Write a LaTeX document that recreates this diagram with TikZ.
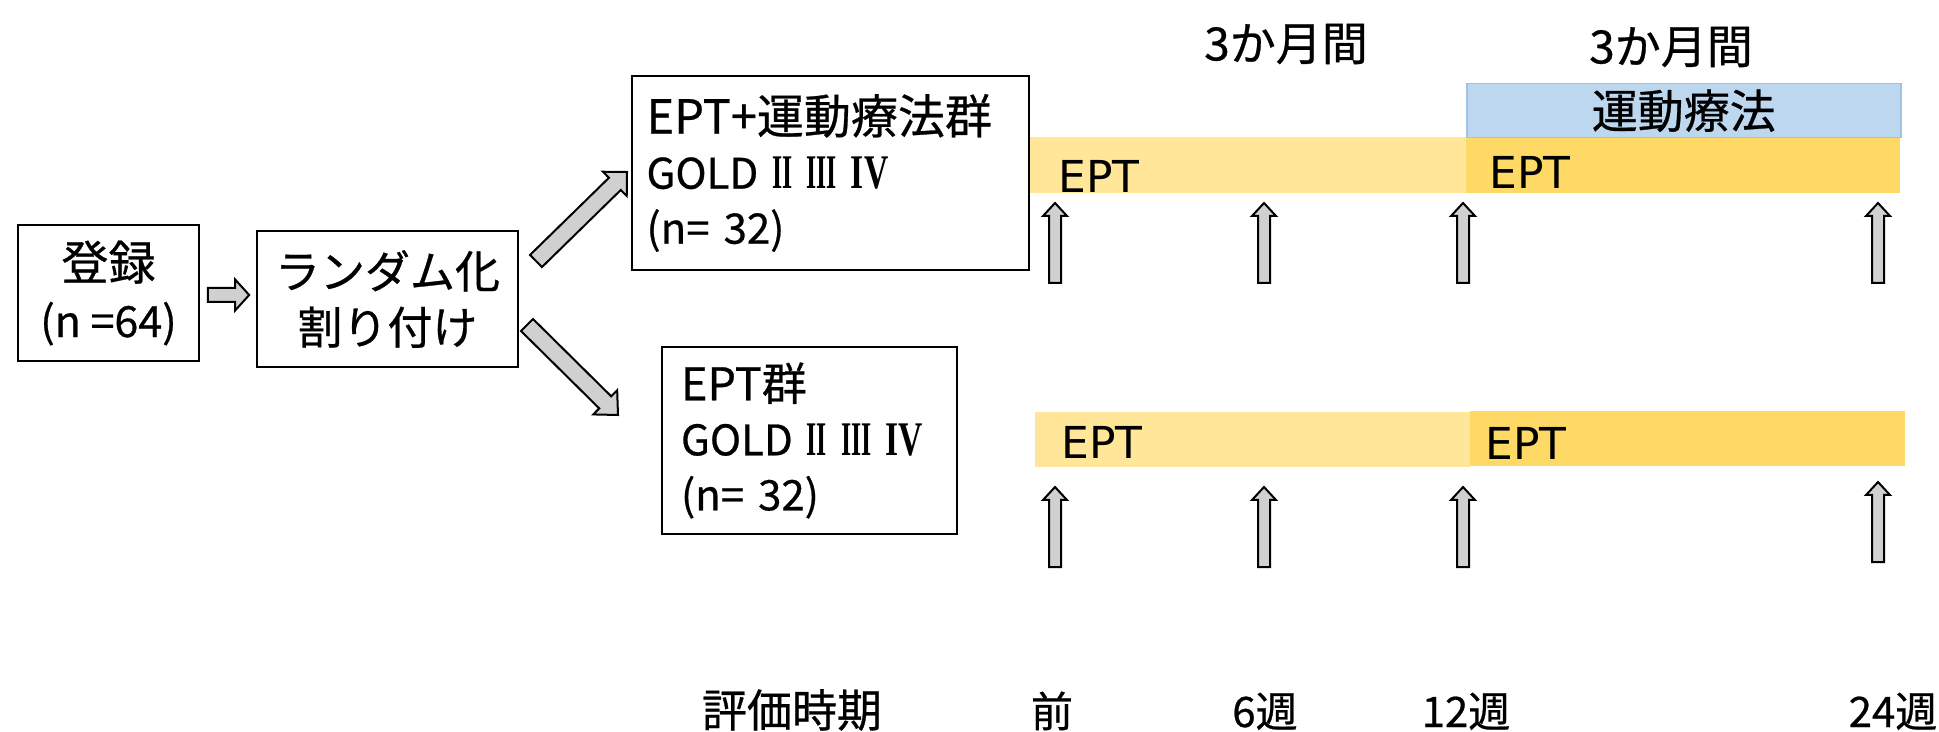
\documentclass[tikz,border=0pt]{standalone}
\usepackage{fontspec}
\usepackage{graphicx}
\setmainfont{Noto Sans CJK JP}[FakeBold=0.6]
\newfontfamily\dvsans{DejaVu Sans}
\newfontfamily\lserif{Liberation Serif}
\usetikzlibrary{calc}
\definecolor{lightbar}{HTML}{FFE699}
\definecolor{darkbar}{HTML}{FFD966}
\definecolor{bluefill}{HTML}{BDD7EE}
\definecolor{blueline}{HTML}{9DC3E6}
\definecolor{arrowgray}{HTML}{D0D0D0}
\newcommand\rnum[2]{\scalebox{#1}[1.15]{\lserif\bfseries #2}}
\newcommand\fs[1]{\fontsize{#1}{27.5}\selectfont}
% block arrow: #1 tail, #2 tip, #3 half shaft, #4 half head, #5 head length
\newcommand\blockarrow[5]{%
  \coordinate (bah) at ($(#2)!#5!(#1)$);
  \draw[blockarr] ($(#1)!#3!90:(#2)$) -- ($(bah)!#3!90:(#2)$) -- ($(bah)!#4!90:(#2)$) -- (#2)
    -- ($(bah)!#4!-90:(#2)$) -- ($(bah)!#3!-90:(#2)$) -- ($(#1)!#3!-90:(#2)$) -- cycle;
}
\begin{document}
\begin{tikzpicture}[x=0.5pt,y=-0.5pt,
  box/.style={draw=black, line width=0.85pt, fill=white, inner sep=0pt},
  blockarr/.style={draw=black, line width=1pt, fill=arrowgray, line join=miter},
  lbar/.style={fill=lightbar, draw=none, inner sep=0pt},
  dbar/.style={fill=darkbar, draw=none, inner sep=0pt},
  exbox/.style={fill=bluefill, draw=blueline, line width=0.75pt, inner sep=0pt},
  barlabel/.style={font=\dvsans\fontsize{22}{22}\selectfont, inner sep=0pt, anchor=west},
  toplabel/.style={font=\fontsize{23}{23}\selectfont, inner sep=0pt},
  timelabel/.style={font=\fontsize{21}{21}\selectfont, inner sep=0pt, anchor=base}
]
\useasboundingbox (0,0) rectangle (1939,732);
\clip (0,0) rectangle (1939,732);

% left boxes
\node[box, minimum width=90.5pt, minimum height=68pt, align=center,
      font=\fontsize{23.5}{28.5}\selectfont] (reg) at (108.5,293)
      {登録\\{\fontsize{21.5}{28.5}\selectfont (n =64)}};
\node[box, minimum width=130.5pt, minimum height=68pt, align=center,
      font=\fontsize{22.5}{28}\selectfont] (rand) at (387.5,299)
      {ランダム化\\割り付け};

% group boxes
\node[box, minimum width=198.5pt, minimum height=97pt, text width=184pt, align=left,
      font=\fs{21}] (grpA) at (830.5,173)
      {{\fs{23.5}EPT+運動療法群}\\GOLD \rnum{0.62}{II} \rnum{0.62}{III} \rnum{0.8}{IV}\\(n= 32)};
\node[box, minimum width=147.5pt, minimum height=93.5pt, text width=128.5pt, align=left,
      font=\fs{21}] (grpB) at (809.5,440.5)
      {{\fs{22.5}EPT群}\\GOLD \rnum{0.62}{II} \rnum{0.62}{III} \rnum{0.8}{IV}\\(n= 32)};

% arrows between boxes
\coordinate (a0s) at ($(reg.east)+(8,2)$);
\coordinate (a0e) at ($(rand.west)+(-7,-4)$);
\blockarrow{a0s}{a0e}{3.5pt}{7.75pt}{7pt}
\coordinate (a1s) at (536,261);
\coordinate (a1e) at (627,172);
\blockarrow{a1s}{a1e}{4.25pt}{8.5pt}{8.5pt}
\coordinate (a2s) at (527,325);
\coordinate (a2e) at (618,415);
\blockarrow{a2s}{a2e}{4.25pt}{8.5pt}{9pt}

% timeline bars (upper)
\node[lbar, anchor=north west, minimum width=218pt, minimum height=28pt] (barA1) at (1030,137) {};
\node[dbar, anchor=north west, minimum width=217pt, minimum height=28pt] (barA2) at (1466,137) {};
\node[exbox, anchor=north west, minimum width=217pt, minimum height=27pt,
      font=\fontsize{23}{23}\selectfont] (exA) at (1466,83) {運動療法};
\node[barlabel] (eptA1) at (1058,176) {EPT};
\node[barlabel] (eptA2) at (1489,172) {EPT};

% timeline bars (lower)
\node[lbar, anchor=north west, minimum width=217.5pt, minimum height=27.5pt] (barB1) at (1035,412) {};
\node[dbar, anchor=north west, minimum width=217.5pt, minimum height=27.5pt] (barB2) at (1470,411) {};
\node[barlabel] (eptB1) at (1061,442) {EPT};
\node[barlabel] (eptB2) at (1485,443) {EPT};

% period labels
\node[toplabel] (per1) at (1286,44) {3か月間};
\node[toplabel] (per2) at (1671,47) {3か月間};

% assessment arrows
\foreach \i/\x/\b/\t in {1/1055/283/203, 2/1264/283/203, 3/1463/283/203, 4/1878/283/203}{
  \coordinate (ut\i) at (\x,\b);
  \coordinate (uh\i) at (\x,\t);
  \blockarrow{ut\i}{uh\i}{3pt}{6pt}{6.5pt}
}
\foreach \i/\x/\b/\t in {1/1055/567/487, 2/1264/567/487, 3/1463/567/487, 4/1878/562/482}{
  \coordinate (lt\i) at (\x,\b);
  \coordinate (lh\i) at (\x,\t);
  \blockarrow{lt\i}{lh\i}{3pt}{6pt}{6.5pt}
}

% time labels
\node[timelabel, font=\fontsize{22.5}{22.5}\selectfont] (tl0) at (792,727) {評価時期};
\node[timelabel] (tl1) at (1052,727) {前};
\node[timelabel] (tl2) at (1265,727) {6週};
\node[timelabel] (tl3) at (1466,727) {12週};
\node[timelabel] (tl4) at (1893,727) {24週};
\end{tikzpicture}
\end{document}
